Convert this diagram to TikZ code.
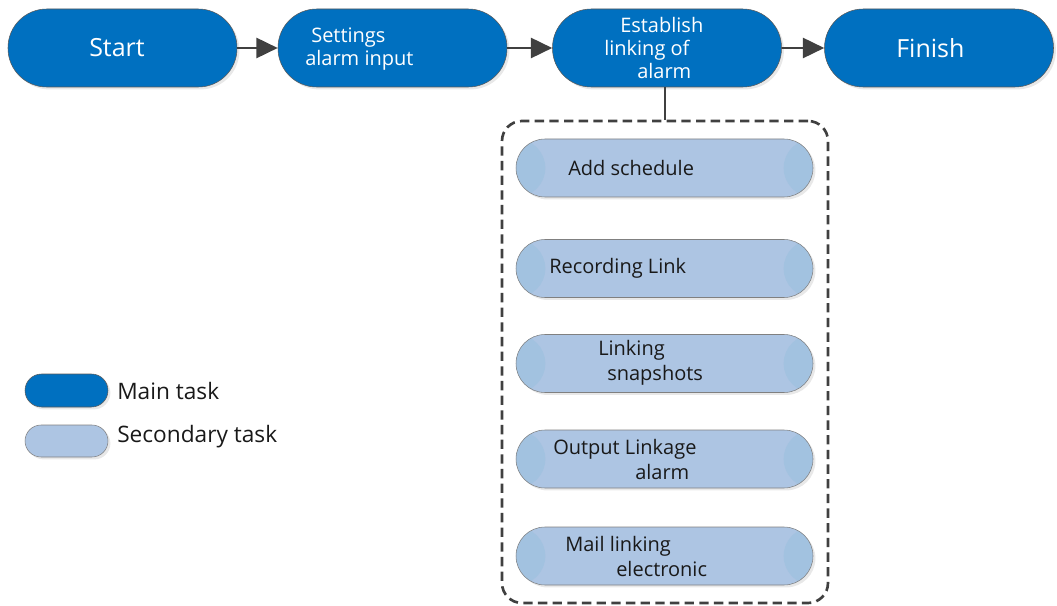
\documentclass[tikz,border=0pt]{standalone}
\usepackage{fontspec}
\setmainfont{Open Sans}
\usetikzlibrary{arrows.meta,shadows}
\definecolor{mainblue}{RGB}{0,112,192}
\definecolor{subblue}{RGB}{173,197,227}
\definecolor{subband}{RGB}{162,194,224}
\definecolor{linegray}{RGB}{64,64,64}
\begin{document}
\begin{tikzpicture}
  [x=0.75pt,y=-0.75pt,
   shade/.style={drop shadow={shadow xshift=1.8pt,shadow yshift=-1.8pt,fill=black!18}},
   main/.style={rectangle,rounded corners=29pt,minimum width=171.75pt,minimum height=58.5pt,
     fill=mainblue,draw=black!65,line width=0.4pt,shade},
   sub/.style={rectangle,rounded corners=21.75pt,minimum width=222.75pt,minimum height=43.5pt,
     fill=subblue,draw=black!50,line width=0.4pt,shade,
     path picture={\fill[subband] (path picture bounding box.south west) rectangle ([xshift=22pt]path picture bounding box.north west);
                   \fill[subband] (path picture bounding box.south east) rectangle ([xshift=-22pt]path picture bounding box.north east);}},
   keymain/.style={main,rounded corners=12.4pt,minimum width=62.25pt,minimum height=24.75pt},
   keysub/.style={sub,rounded corners=12pt,minimum width=62.25pt,minimum height=24pt,path picture={}},
   bigtxt/.style={anchor=west,inner sep=0,text=white,font=\fontsize{18.75}{22}\selectfont},
   maintxt/.style={anchor=west,inner sep=0,align=left,text=white,font=\fontsize{15}{17}\selectfont},
   subtxt/.style={anchor=west,inner sep=0,align=left,text=black!90,font=\fontsize{15}{18.75}\selectfont},
   keytxt/.style={anchor=west,inner sep=0,text=black!90,font=\fontsize{17}{20}\selectfont},
   link/.style={draw=linegray,line width=2pt,-{Triangle[length=16pt,width=15pt]}},
   group/.style={rectangle,draw=linegray,line width=2pt,dash pattern=on 7pt off 4pt,
     rounded corners=15pt,minimum width=244.5pt,minimum height=361.5pt}]
  \useasboundingbox (0,0) rectangle (1057,606);

  % main flow
  \node[main] (start) at (122.5,48) {};
  \node[main] (alarmin) at (392.5,48) {};
  \node[main] (linkage) at (667,48) {};
  \node[main] (finish) at (939,48) {};
  \node[bigtxt] (starttxt) at (89,48) {Start};
  \node[maintxt] (alarmintxt) at (305,49) {\hspace*{4.5pt}Settings\\alarm input};
  \node[maintxt] (linkagetxt) at (604,48) {\hspace*{12pt}Establish\\linking of\\\hspace*{24.75pt}alarm};
  \node[bigtxt] (finishtxt) at (896,48) {Finish};

  \foreach \from/\to in {start/alarmin,alarmin/linkage,linkage/finish}
    \draw[link] (\from) -- (\to);

  % linked tasks
  \node[group] (grp) at (665,362) {};
  \draw[draw=linegray,line width=2pt] (grp.north) -- (grp.north |- linkage.south);

  \node[sub] (sched) at (664.5,168) {};
  \node[sub] (record) at (664.5,268.5) {};
  \node[sub] (snap) at (664.5,363.5) {};
  \node[sub] (output) at (664.5,459) {};
  \node[sub] (mail) at (664.5,556) {};
  \node[subtxt] (schedtxt) at (568,168) {Add schedule};
  \node[subtxt] (recordtxt) at (549,268) {Recording Link};
  \node[subtxt] (snaptxt) at (598,363) {Linking\\\hspace*{6.75pt}snapshots};
  \node[subtxt] (outputtxt) at (553,459) {Output Linkage\\\hspace*{61.5pt}alarm};
  \node[subtxt] (mailtxt) at (565,556) {Mail linking\\\hspace*{38.25pt}electronic};

  % legend
  \node[keymain] (keym) at (66.5,390.5) {};
  \node[keysub] (keys) at (66.5,441) {};
  \node[keytxt] (keymtxt) at (117,391) {Main task};
  \node[keytxt] (keystxt) at (117,437) {Secondary task};

\end{tikzpicture}
\end{document}
